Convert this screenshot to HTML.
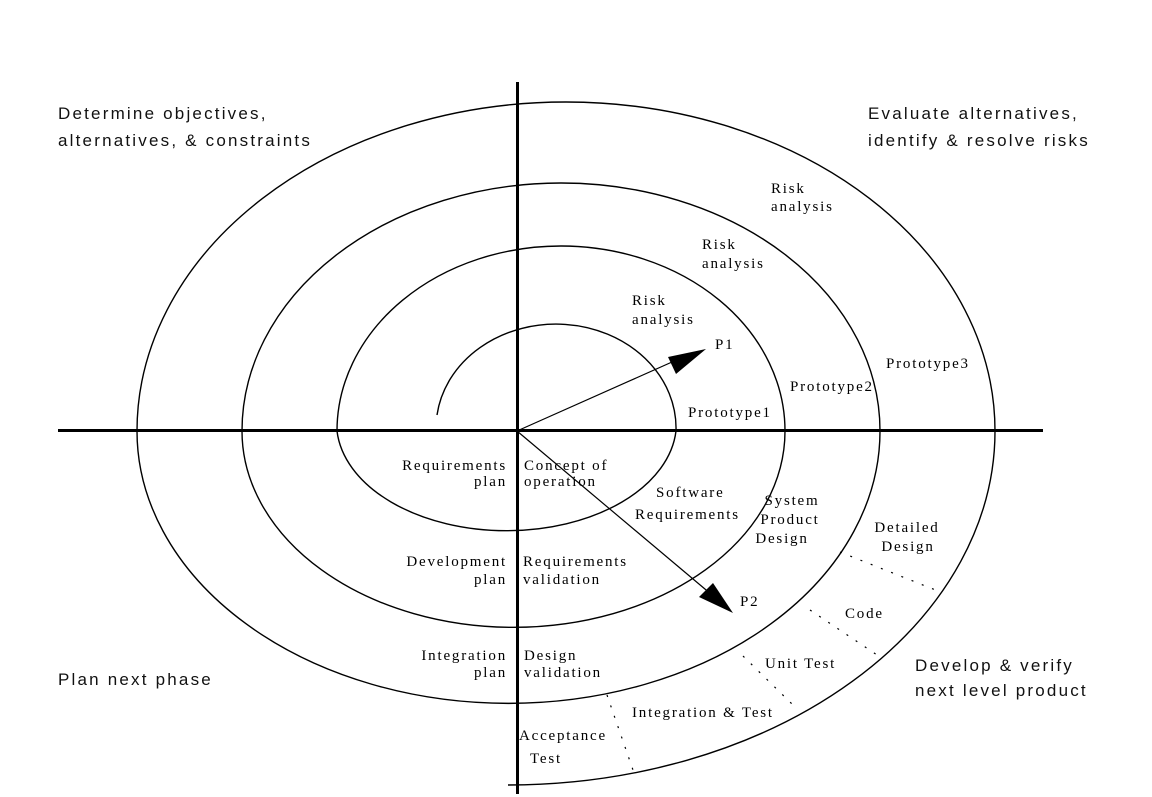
<!DOCTYPE html>
<html><head><meta charset="utf-8"><style>
html,body{margin:0;padding:0;background:#fff;}
svg{display:block;}
.s{font-family:"Liberation Serif",serif;font-size:15px;letter-spacing:1.8px;fill:#000;}
.a{font-family:"Liberation Sans",sans-serif;font-size:17px;fill:#111;letter-spacing:2.2px;}
</style></head><body>
<svg width="1152" height="797" viewBox="0 0 1152 797" xmlns="http://www.w3.org/2000/svg">
<g fill="none" stroke="#000" stroke-width="1.4">
<path d="M437 415 A120 104 0 0 1 676 431"/>
<path d="M337 431 A224 185 0 0 1 785 431"/>
<path d="M242 431 A319 248 0 0 1 880 431"/>
<path d="M137 431 A429 329 0 0 1 995 431"/>
<path d="M676 431 A170 108 0 0 1 337 431"/>
<path d="M785 431 A271 196 0 0 1 242 431"/>
<path d="M880 431 A371 272 0 0 1 137 431"/>
<path d="M995 431 A487 354 0 0 1 508 785"/>
<g stroke-dasharray="2 9" stroke-width="1.2">
<line x1="840" y1="552" x2="938" y2="591"/>
<line x1="810" y1="610" x2="877" y2="655"/>
<line x1="743" y1="656" x2="792" y2="704"/>
<line x1="607" y1="695" x2="633" y2="770"/>
</g>
<line x1="517" y1="431" x2="690" y2="354" stroke-width="1.2"/>
<line x1="517" y1="431" x2="718" y2="600" stroke-width="1.2"/>
</g>
<polygon points="706,349 668,357 676,374" fill="#000"/>
<polygon points="733,613 699,597 713,583" fill="#000"/>
<line x1="58" y1="430.5" x2="1043" y2="430.5" stroke="#000" stroke-width="3"/>
<line x1="517.5" y1="82" x2="517.5" y2="794" stroke="#000" stroke-width="3"/>

<text class="a" x="58" y="119">Determine objectives,</text>
<text class="a" x="58" y="146">alternatives, &amp; constraints</text>
<text class="a" x="868" y="119">Evaluate alternatives,</text>
<text class="a" x="868" y="146">identify &amp; resolve risks</text>
<text class="a" x="58" y="685">Plan next phase</text>
<text class="a" x="915" y="671">Develop &amp; verify</text>
<text class="a" x="915" y="696">next level product</text>

<text class="s" x="771" y="193">Risk</text><text class="s" x="771" y="211">analysis</text>
<text class="s" x="702" y="249">Risk</text><text class="s" x="702" y="268">analysis</text>
<text class="s" x="632" y="305">Risk</text><text class="s" x="632" y="324">analysis</text>
<text class="s" x="715" y="349">P1</text>
<text class="s" x="740" y="606">P2</text>
<text class="s" x="688" y="417">Prototype1</text>
<text class="s" x="790" y="391">Prototype2</text>
<text class="s" x="886" y="368">Prototype3</text>
<text class="s" x="507" y="470" text-anchor="end">Requirements</text>
<text class="s" x="507" y="486" text-anchor="end">plan</text>
<text class="s" x="524" y="470">Concept of</text>
<text class="s" x="524" y="486">operation</text>
<text class="s" x="656" y="497">Software</text>
<text class="s" x="635" y="519">Requirements</text>
<text class="s" x="792" y="505" text-anchor="middle">System</text>
<text class="s" x="790" y="524" text-anchor="middle">Product</text>
<text class="s" x="782" y="543" text-anchor="middle">Design</text>
<text class="s" x="907" y="532" text-anchor="middle">Detailed</text>
<text class="s" x="908" y="551" text-anchor="middle">Design</text>
<text class="s" x="507" y="566" text-anchor="end">Development</text>
<text class="s" x="507" y="584" text-anchor="end">plan</text>
<text class="s" x="523" y="566">Requirements</text>
<text class="s" x="523" y="584">validation</text>
<text class="s" x="845" y="618">Code</text>
<text class="s" x="765" y="668">Unit Test</text>
<text class="s" x="507" y="660" text-anchor="end">Integration</text>
<text class="s" x="507" y="677" text-anchor="end">plan</text>
<text class="s" x="524" y="660">Design</text>
<text class="s" x="524" y="677">validation</text>
<text class="s" x="632" y="717">Integration &amp; Test</text>
<text class="s" x="519" y="740">Acceptance</text>
<text class="s" x="530" y="763">Test</text>
</svg>
</body></html>
